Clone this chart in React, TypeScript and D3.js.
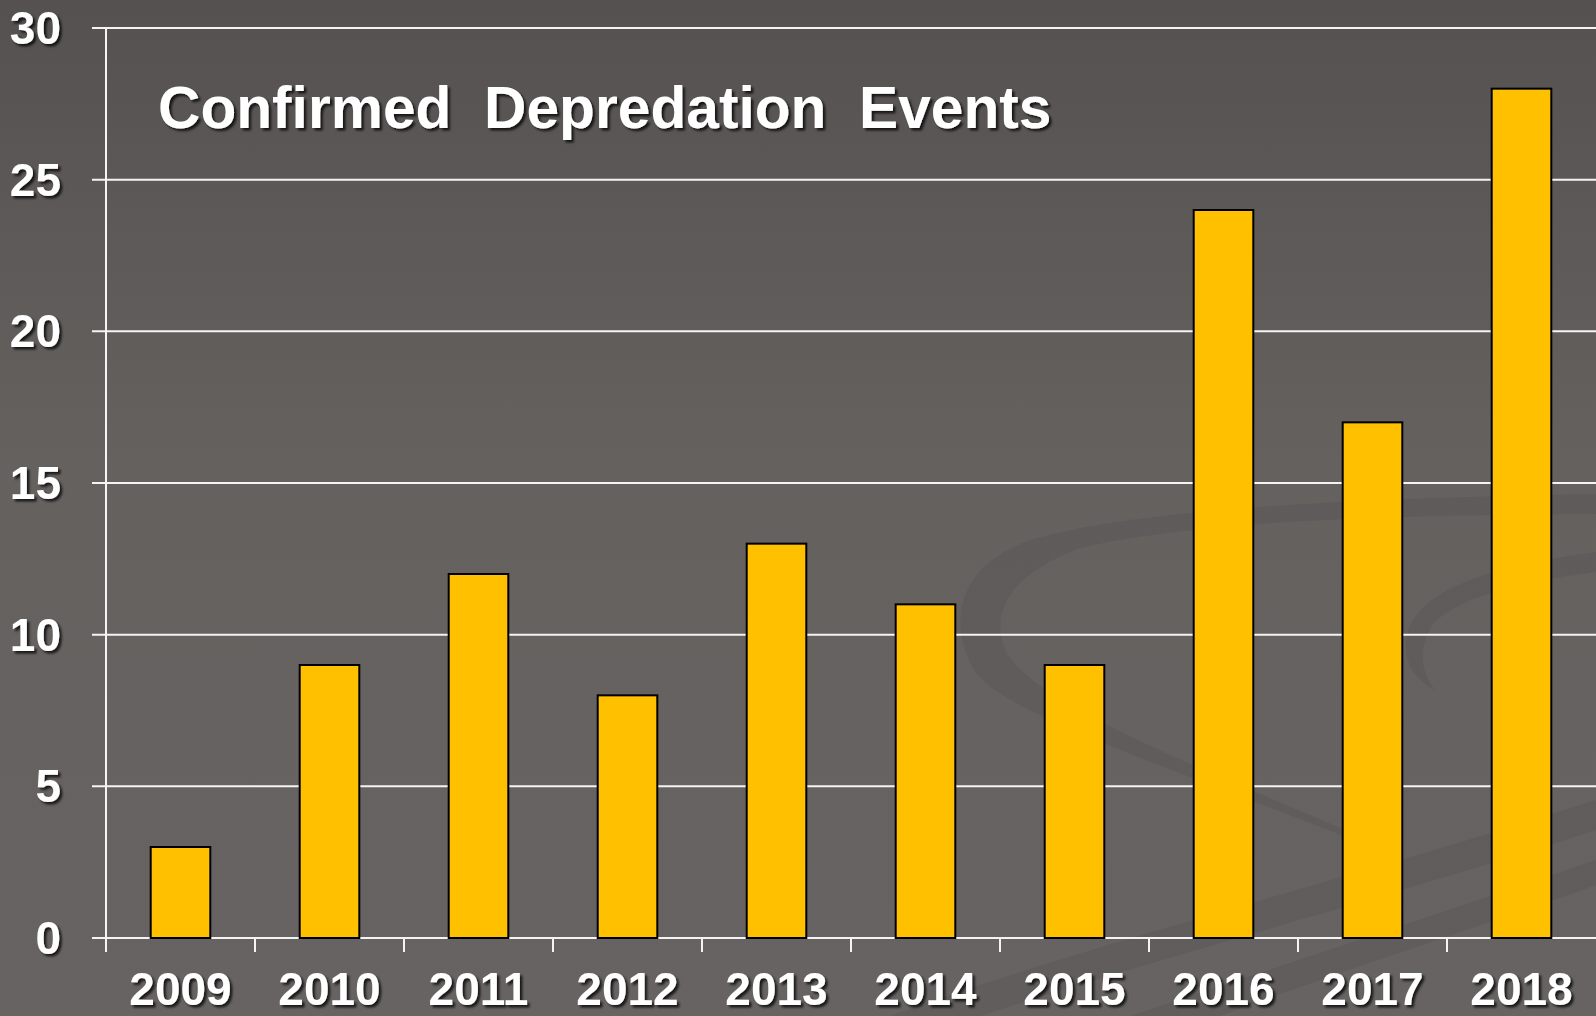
import React, { useEffect, useRef } from 'react';
import * as d3 from 'd3';

const years = ['2009', '2010', '2011', '2012', '2013', '2014', '2015', '2016', '2017', '2018'];
const events = [3, 9, 12, 8, 13, 11, 9, 24, 17, 28];
const yTicks = [0, 5, 10, 15, 20, 25, 30];
const title = 'Confirmed  Depredation  Events';

function App() {
  const svgRef = useRef<SVGSVGElement>(null);

  useEffect(() => {
    const width = 1596;
    const height = 1016;
    const left = 106;
    const top = 28;
    const bottom = 938;

    const svg = d3.select(svgRef.current).attr('width', width).attr('height', height);
    svg.selectAll('*').remove();

    const defs = svg.append('defs');
    const grad = defs
      .append('linearGradient')
      .attr('id', 'bg')
      .attr('x1', 0)
      .attr('y1', 0)
      .attr('x2', 0)
      .attr('y2', 1);
    grad.append('stop').attr('offset', '0%').attr('stop-color', '#555150');
    grad.append('stop').attr('offset', '45%').attr('stop-color', '#65615f');
    grad.append('stop').attr('offset', '100%').attr('stop-color', '#676362');

    const shadow = defs.append('filter').attr('id', 'shadow').attr('x', '-10%').attr('y', '-20%').attr('width', '130%').attr('height', '150%');
    shadow
      .append('feDropShadow')
      .attr('dx', 2.5)
      .attr('dy', 2.5)
      .attr('stdDeviation', 1.2)
      .attr('flood-color', '#000')
      .attr('flood-opacity', 0.75);

    svg.append('rect').attr('width', width).attr('height', height).attr('fill', 'url(#bg)');

    // faint swirl watermark in the background
    const swirl = svg.append('g').attr('fill', '#4f4b4a').attr('fill-opacity', 0.25).attr('stroke', 'none');
    swirl
      .append('path')
      .attr(
        'd',
        'M1596,494 C1400,498 1150,505 1030,540 C960,565 945,620 975,672 C1010,715 1150,760 1344,836 L1350,832 C1180,760 1030,700 1005,650 C990,610 1010,575 1080,548 C1200,520 1400,515 1596,514 Z'
      );
    swirl
      .append('path')
      .attr(
        'd',
        'M1596,552 C1500,565 1425,585 1408,630 C1400,660 1415,680 1435,690 C1420,670 1418,650 1432,625 C1460,595 1530,580 1596,572 Z'
      );
    swirl
      .append('path')
      .attr('d', 'M890,1016 C1100,940 1350,880 1596,800 L1596,830 C1380,900 1150,960 980,1016 Z');
    swirl
      .append('path')
      .attr('d', 'M1130,1016 C1300,960 1450,910 1596,860 L1596,885 C1470,930 1330,975 1220,1016 Z');

    const x = d3.scaleBand<string>().domain(years).range([left, width]).paddingInner(0.6).paddingOuter(0.3);
    const y = d3.scaleLinear().domain([0, 30]).range([bottom, top]);

    // gridlines
    svg
      .append('g')
      .selectAll('line')
      .data(yTicks)
      .enter()
      .append('line')
      .attr('x1', left - 14)
      .attr('x2', width)
      .attr('y1', (d) => y(d))
      .attr('y2', (d) => y(d))
      .attr('stroke', '#f4f4f4')
      .attr('stroke-width', 2);

    // y axis line
    svg
      .append('line')
      .attr('x1', left)
      .attr('x2', left)
      .attr('y1', top)
      .attr('y2', bottom + 14)
      .attr('stroke', '#f4f4f4')
      .attr('stroke-width', 2);

    // x ticks at category boundaries
    const step = x.step();
    svg
      .append('g')
      .selectAll('line')
      .data(years)
      .enter()
      .append('line')
      .attr('x1', (_, i) => left + i * step)
      .attr('x2', (_, i) => left + i * step)
      .attr('y1', bottom)
      .attr('y2', bottom + 14)
      .attr('stroke', '#f4f4f4')
      .attr('stroke-width', 2);

    svg
      .append('g')
      .selectAll('rect')
      .data(events)
      .enter()
      .append('rect')
      .attr('x', (_, i) => x(years[i]) as number)
      .attr('y', (d) => y(d))
      .attr('width', x.bandwidth())
      .attr('height', (d) => bottom - y(d))
      .attr('fill', '#FFC000')
      .attr('stroke', '#000')
      .attr('stroke-width', 2);

    const font = '"Liberation Sans", Arial, sans-serif';

    svg
      .append('g')
      .selectAll('text')
      .data(yTicks)
      .enter()
      .append('text')
      .attr('x', 61)
      .attr('y', (d) => y(d) + 16)
      .attr('text-anchor', 'end')
      .attr('font-family', font)
      .attr('font-weight', 'bold')
      .attr('font-size', 46)
      .attr('fill', '#fff')
      .attr('filter', 'url(#shadow)')
      .text((d) => d);

    svg
      .append('g')
      .selectAll('text')
      .data(years)
      .enter()
      .append('text')
      .attr('x', (d) => (x(d) as number) + x.bandwidth() / 2)
      .attr('y', 1005)
      .attr('text-anchor', 'middle')
      .attr('font-family', font)
      .attr('font-weight', 'bold')
      .attr('font-size', 46)
      .attr('fill', '#fff')
      .attr('filter', 'url(#shadow)')
      .text((d) => d);

    svg
      .append('text')
      .attr('x', 158)
      .attr('y', 128)
      .attr('font-family', font)
      .attr('font-weight', 'bold')
      .attr('font-size', 58.7)
      .attr('fill', '#fff')
      .attr('filter', 'url(#shadow)')
      .style('white-space', 'pre')
      .text(title);
  }, []);

  return (
    <div style={{ position: 'absolute', left: 0, top: 0 }}>
      <svg ref={svgRef} style={{ display: 'block' }}></svg>
    </div>
  );
}

export default App;
